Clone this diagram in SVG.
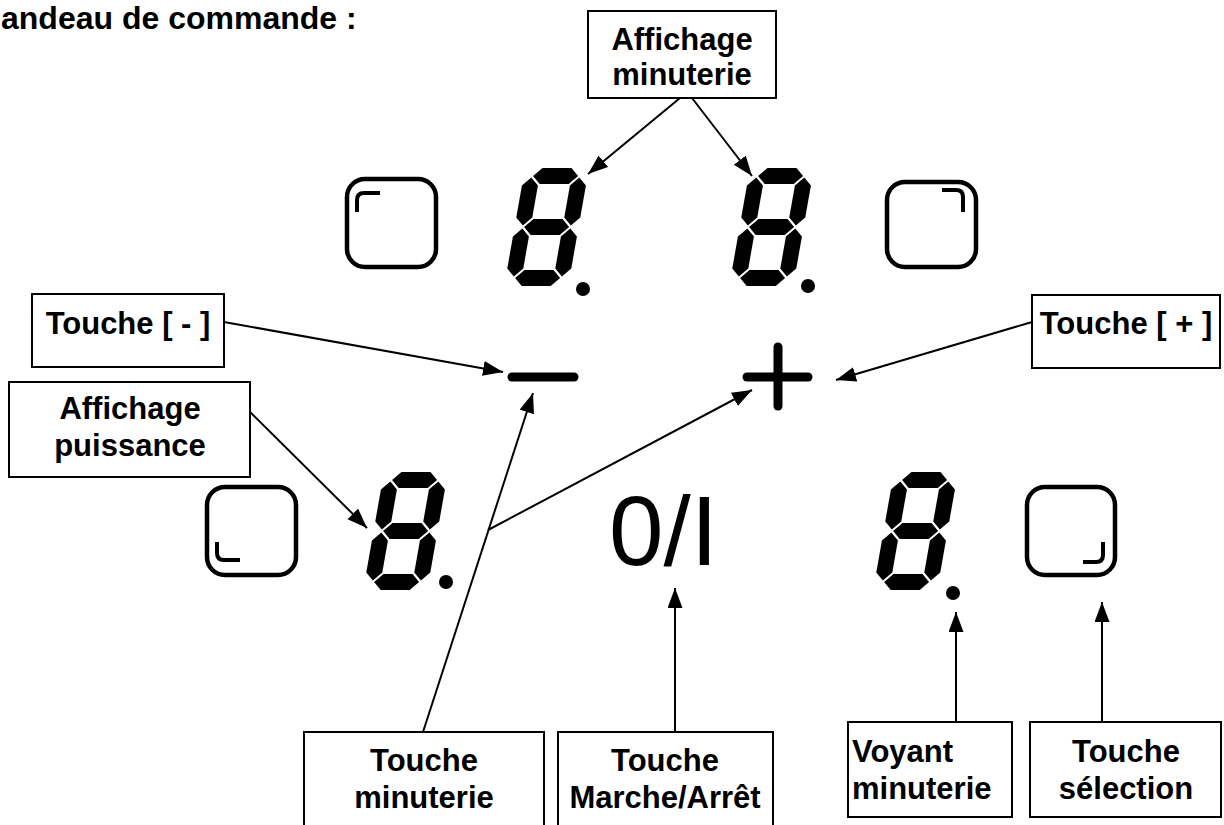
<svg xmlns="http://www.w3.org/2000/svg" width="1224" height="825" viewBox="0 0 1224 825">
<style>
.lbl{font-family:"Liberation Sans",Arial,sans-serif;font-weight:bold;font-size:31px;fill:#000}
.box{fill:#fff;stroke:#000;stroke-width:2}
.btn{fill:none;stroke:#000;stroke-width:4.5}
.mark{fill:none;stroke:#000;stroke-width:4;stroke-linecap:butt}
.con{fill:none;stroke:#000;stroke-width:2}
.seg{fill:#000}
</style>
<defs>
<marker id="ah" markerUnits="userSpaceOnUse" markerWidth="21" markerHeight="16" refX="20" refY="7.5" orient="auto">
<path d="M0,0 L20,7.5 L0,15 z" fill="#000"/>
</marker>
<g id="digit" class="seg">
<polygon points="9.5,8 17.5,0 46.5,0 54.5,8 46.5,16 17.5,16"/>
<polygon points="9.5,59 17.5,51 46.5,51 54.5,59 46.5,67 17.5,67"/>
<polygon points="9.5,110 17.5,102 46.5,102 54.5,110 46.5,118 17.5,118"/>
<polygon points="8,9.5 16,17.5 16,49.5 8,57.5 0,49.5 0,17.5"/>
<polygon points="56,9.5 64,17.5 64,49.5 56,57.5 48,49.5 48,17.5"/>
<polygon points="8,60.5 16,68.5 16,100.5 8,108.5 0,100.5 0,68.5"/>
<polygon points="56,60.5 64,68.5 64,100.5 56,108.5 48,100.5 48,68.5"/>
</g>
</defs>
<rect width="1224" height="825" fill="#fff"/>
<text id="title" x="1" y="29" font-family="Liberation Sans,Arial,sans-serif" font-weight="bold" font-size="32">andeau de commande :</text>

<g id="btn-top-left"><rect class="btn" x="347" y="179" width="89" height="88" rx="18"/><path class="mark" d="M357,212 V200 Q357,193 364,193 H380"/></g>
<g id="btn-top-right"><rect class="btn" x="887" y="182" width="89" height="85" rx="18"/><path class="mark" d="M942,190 H956 Q963,190 963,197 V212"/></g>
<g id="btn-bottom-left"><rect class="btn" x="207" y="487" width="89" height="88" rx="18"/><path class="mark" d="M217,542 V553 Q217,560 224,560 H240"/></g>
<g id="btn-bottom-right"><rect class="btn" x="1027" y="487" width="88" height="88" rx="18"/><path class="mark" d="M1103,542 V555 Q1103,562 1096,562 H1083"/></g>

<g id="digit-top-left"><use href="#digit" transform="translate(525,168) skewX(-10)"/><circle cx="583" cy="289" r="7"/></g>
<g id="digit-top-right"><use href="#digit" transform="translate(750,168) skewX(-10)"/><circle cx="808" cy="286" r="7"/></g>
<g id="digit-bottom-left"><use href="#digit" transform="translate(384,472) skewX(-10)"/><circle cx="446" cy="582" r="7"/></g>
<g id="digit-bottom-right"><use href="#digit" transform="translate(894,472) skewX(-10)"/><circle cx="953" cy="593" r="7"/></g>

<g id="key-minus"><line x1="512" y1="377" x2="574" y2="377" stroke="#000" stroke-width="9" stroke-linecap="round"/></g>
<g id="key-plus"><line x1="747" y1="377" x2="808" y2="377" stroke="#000" stroke-width="9" stroke-linecap="round"/><line x1="778" y1="347" x2="778" y2="406" stroke="#000" stroke-width="9" stroke-linecap="round"/></g>
<g id="key-onoff"><text x="609" y="565" font-family="Liberation Sans,Arial,sans-serif" font-size="98">0/I</text></g>

<g id="lbl-affichage-minuterie"><rect class="box" x="588" y="11" width="188" height="87"/><text class="lbl" text-anchor="middle" x="682" y="50">Affichage</text><text class="lbl" text-anchor="middle" x="682" y="85">minuterie</text></g>
<g id="lbl-touche-moins"><rect class="box" x="32" y="294" width="192" height="73"/><text class="lbl" text-anchor="middle" x="128" y="334">Touche [ - ]</text></g>
<g id="lbl-touche-plus"><rect class="box" x="1032" y="295" width="188" height="73"/><text class="lbl" text-anchor="middle" x="1126" y="334">Touche [ + ]</text></g>
<g id="lbl-affichage-puissance"><rect class="box" x="9" y="382" width="241" height="95"/><text class="lbl" text-anchor="middle" x="130" y="419">Affichage</text><text class="lbl" text-anchor="middle" x="130" y="456">puissance</text></g>
<g id="lbl-touche-minuterie"><rect class="box" x="304" y="732" width="240" height="100"/><text class="lbl" text-anchor="middle" x="424" y="771">Touche</text><text class="lbl" text-anchor="middle" x="424" y="808">minuterie</text></g>
<g id="lbl-touche-marche"><rect class="box" x="558" y="732" width="215" height="100"/><text class="lbl" text-anchor="middle" x="665" y="771">Touche</text><text class="lbl" text-anchor="middle" x="665" y="808">Marche/Arrêt</text></g>
<g id="lbl-voyant-minuterie"><rect class="box" x="848" y="722" width="164" height="95"/><text class="lbl" x="852" y="762">Voyant</text><text class="lbl" x="852" y="799">minuterie</text></g>
<g id="lbl-touche-selection"><rect class="box" x="1030" y="722" width="191" height="95"/><text class="lbl" text-anchor="middle" x="1126" y="762">Touche</text><text class="lbl" text-anchor="middle" x="1126" y="799">sélection</text></g>

<g id="connectors">
<line class="con" x1="680" y1="98" x2="588" y2="174" marker-end="url(#ah)"/>
<line class="con" x1="692" y1="98" x2="752" y2="176" marker-end="url(#ah)"/>
<line class="con" x1="224" y1="322" x2="503" y2="372" marker-end="url(#ah)"/>
<line class="con" x1="1032" y1="322" x2="836" y2="380" marker-end="url(#ah)"/>
<line class="con" x1="250" y1="412" x2="367" y2="528" marker-end="url(#ah)"/>
<line class="con" x1="423" y1="732" x2="533" y2="393" marker-end="url(#ah)"/>
<line class="con" x1="488" y1="530" x2="752" y2="390" marker-end="url(#ah)"/>
<line class="con" x1="675" y1="732" x2="675" y2="588" marker-end="url(#ah)"/>
<line class="con" x1="956" y1="722" x2="956" y2="612" marker-end="url(#ah)"/>
<line class="con" x1="1102" y1="722" x2="1102" y2="602" marker-end="url(#ah)"/>
</g>
</svg>
